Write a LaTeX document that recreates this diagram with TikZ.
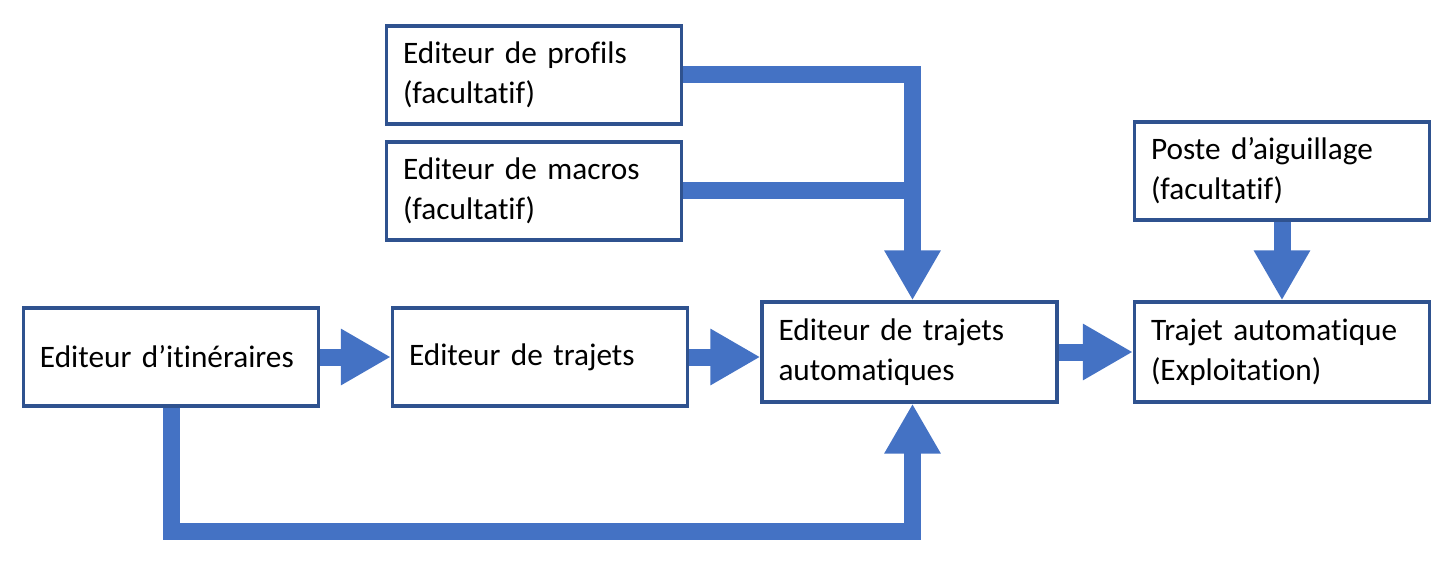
\documentclass[tikz,border=0pt]{standalone}
\usepackage{fontspec}
\setmainfont[Ligatures=NoCommon]{Carlito}
\usepackage{xcolor}
\usepackage{tikz}
\usetikzlibrary{arrows.meta,positioning,calc}
\definecolor{boxblue}{HTML}{2F528F}
\definecolor{flowblue}{HTML}{4472C4}

\begin{document}
\begin{tikzpicture}[
    box/.style={rectangle, draw=boxblue, line width=1.9pt, fill=white, minimum width=5.9cm, minimum height=1.96cm, text width=5.24cm, inner xsep=0.33cm, align=left, font=\fontsize{17.8}{22.8}\selectfont},
    flow/.style={draw=flowblue, line width=0.34cm, -{Triangle[width=1.06cm,length=1.0cm]}},
    link/.style={draw=flowblue, line width=0.34cm}
]
\useasboundingbox (0,0) rectangle (29.12,11.28);

\node[box] (prof) at (10.68,9.78) {Editeur de profils\\(facultatif)};
\node[box] (macro) at (10.68,7.46) {Editeur de macros\\(facultatif)};
\node[box] (poste) at (25.64,7.86) {Poste d’aiguillage\\(facultatif)};
\node[box] (itin) at (3.42,4.14) {Editeur d’itinéraires};
\node[box] (traj) at (10.8,4.14) {Editeur de trajets};
\node[box, minimum height=2cm] (auto) at (18.19,4.24) {Editeur de trajets\\automatiques};
\node[box, minimum height=2cm] (expl) at (25.64,4.24) {Trajet automatique\\(Exploitation)};

\coordinate (top) at ([xshift=0.06cm]auto.north);
\coordinate (bot) at ([xshift=0.06cm]auto.south);

\draw[flow] (prof.east) -| (top);
\draw[link] (macro.east) -- (macro.east -| top);
\draw[flow] (itin.east) -- (traj.west);
\draw[flow] (traj.east) -- (traj.east -| auto.west);
\draw[flow] (itin.south) -- ++(0,-2.48) -| (bot);
\draw[flow] (auto.east) -- (expl.west);
\draw[flow] (poste.south) -- (expl.north);
\end{tikzpicture}
\end{document}
